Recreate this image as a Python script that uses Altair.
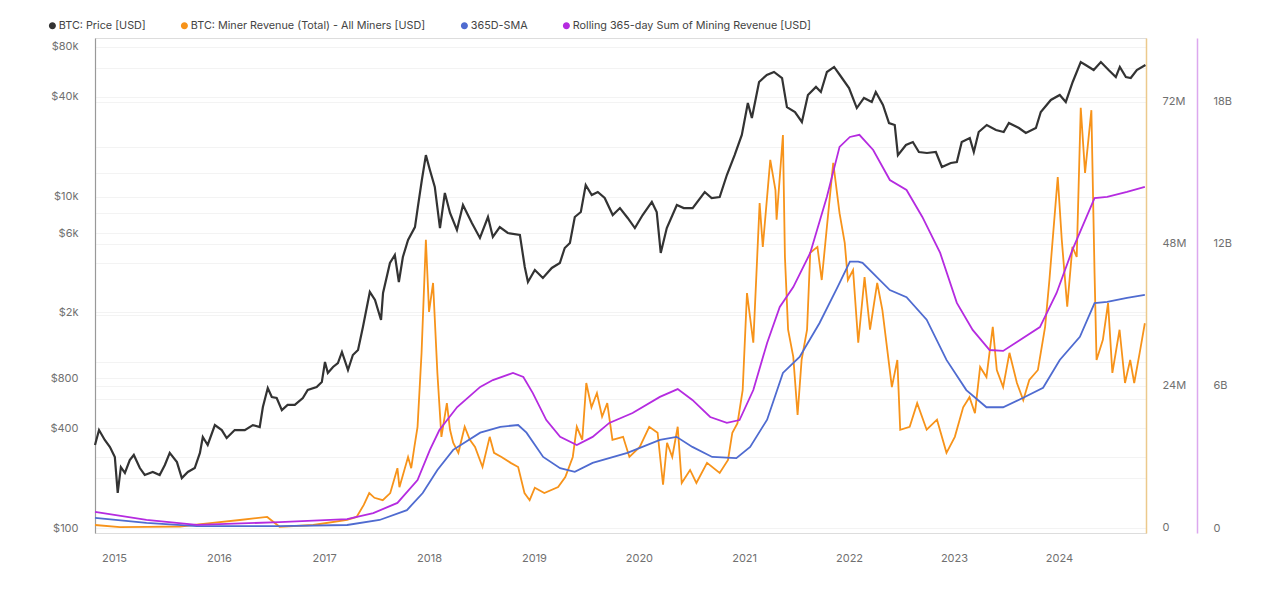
import altair as alt
import pandas as pd

SERIES = [
    "BTC: Price [USD]",
    "BTC: Miner Revenue (Total) - All Miners [USD]",
    "365D-SMA",
    "Rolling 365-day Sum of Mining Revenue [USD]",
]
COLORS = ["#333333", "#f7931a", "#4f6bd0", "#b52be0"]

# (decimal year, BTC price in USD)
PRICE = [
    (2014.819, 317), (2014.857, 390), (2014.914, 340), (2014.962, 308), (2015.010, 268),
    (2015.038, 163), (2015.067, 233), (2015.105, 215), (2015.152, 257), (2015.190, 276),
    (2015.248, 230), (2015.295, 209), (2015.371, 218), (2015.438, 209), (2015.486, 240),
    (2015.533, 284), (2015.600, 250), (2015.648, 200), (2015.705, 218), (2015.771, 230),
    (2015.819, 284), (2015.848, 354), (2015.895, 317), (2015.962, 418), (2016.029, 390),
    (2016.076, 349), (2016.152, 390), (2016.248, 390), (2016.324, 418), (2016.390, 407),
    (2016.419, 537), (2016.467, 700), (2016.505, 617), (2016.552, 609), (2016.600, 515),
    (2016.657, 553), (2016.724, 553), (2016.800, 609), (2016.848, 681), (2016.933, 710),
    (2016.981, 760), (2017.010, 1004), (2017.038, 862), (2017.086, 937), (2017.133, 990),
    (2017.171, 1154), (2017.229, 899), (2017.276, 1107), (2017.324, 1187), (2017.371, 1633),
    (2017.438, 2657), (2017.486, 2377), (2017.543, 1800), (2017.562, 2620), (2017.629, 3974),
    (2017.676, 4441), (2017.714, 3052), (2017.752, 4320), (2017.800, 5470), (2017.867, 6550),
    (2017.895, 8650), (2017.933, 12600), (2017.971, 17800), (2018.010, 14470), (2018.057, 11430),
    (2018.105, 6460), (2018.152, 10510), (2018.200, 7960), (2018.267, 6290), (2018.324, 8900),
    (2018.410, 6930), (2018.486, 5630), (2018.562, 7530), (2018.610, 5710), (2018.676, 6550),
    (2018.752, 6030), (2018.867, 5870), (2018.914, 3760), (2018.943, 3052), (2019.010, 3610),
    (2019.086, 3230), (2019.171, 3710), (2019.248, 3974), (2019.295, 4896), (2019.343, 5250),
    (2019.390, 7530), (2019.448, 8070), (2019.495, 11750), (2019.552, 10220), (2019.610, 10660),
    (2019.676, 9810), (2019.752, 7740), (2019.819, 8530), (2019.895, 7430), (2019.962, 6460),
    (2020.038, 7740), (2020.124, 9280), (2020.171, 8070), (2020.210, 4570), (2020.267, 6460),
    (2020.362, 8900), (2020.429, 8530), (2020.514, 8530), (2020.629, 10660), (2020.695, 9810),
    (2020.771, 9940), (2020.838, 13500), (2020.914, 17800), (2020.981, 23540), (2021.038, 36700),
    (2021.076, 29810), (2021.143, 49160), (2021.219, 54190), (2021.286, 56500), (2021.362, 51960),
    (2021.410, 34700), (2021.486, 32400), (2021.552, 28200), (2021.610, 41030), (2021.686, 45900),
    (2021.733, 42790), (2021.790, 56500), (2021.857, 60600), (2021.914, 54190), (2022.000, 45230),
    (2022.076, 34240), (2022.143, 39370), (2022.219, 37240), (2022.257, 42790), (2022.324, 35720),
    (2022.381, 27800), (2022.438, 27040), (2022.467, 17800), (2022.543, 20480), (2022.610, 21350),
    (2022.667, 18580), (2022.743, 18330), (2022.829, 18580), (2022.886, 15090), (2022.971, 15950),
    (2023.029, 16170), (2023.076, 21350), (2023.152, 22580), (2023.190, 18580), (2023.238, 24540),
    (2023.314, 27040), (2023.400, 25200), (2023.476, 24540), (2023.524, 27800), (2023.619, 25940),
    (2023.686, 24200), (2023.781, 25940), (2023.829, 32400), (2023.924, 38300), (2024.010, 41030),
    (2024.067, 37240), (2024.133, 49160), (2024.210, 64900), (2024.257, 62260), (2024.333, 58100),
    (2024.400, 64900), (2024.476, 58100), (2024.543, 52700), (2024.581, 60600), (2024.638, 52700),
    (2024.686, 51960), (2024.743, 58100), (2024.825, 62260),
]

# (decimal year, daily miner revenue in USD millions)
REVENUE = [
    (2014.82, 0.5), (2015.06, 0.15), (2015.31, 0.2), (2015.63, 0.25), (2015.94, 0.85),
    (2016.20, 1.35), (2016.46, 1.86), (2016.58, 0.2), (2016.90, 0.5), (2017.22, 1.35),
    (2017.31, 1.86), (2017.38, 3.9), (2017.43, 5.9), (2017.48, 5.1), (2017.56, 4.7),
    (2017.63, 5.9), (2017.70, 10.1), (2017.72, 6.9), (2017.80, 12.0), (2017.83, 10.1),
    (2017.86, 13.7), (2017.89, 17.1), (2017.93, 29.6), (2017.97, 48.7), (2018.00, 36.5),
    (2018.04, 41.4), (2018.08, 26.2), (2018.12, 15.4), (2018.17, 21.1), (2018.20, 16.6),
    (2018.23, 14.4), (2018.28, 12.7), (2018.34, 17.1), (2018.39, 14.9), (2018.44, 13.7),
    (2018.51, 10.3), (2018.58, 15.4), (2018.62, 12.7), (2018.69, 12.0), (2018.78, 11.0),
    (2018.85, 10.3), (2018.91, 5.9), (2018.96, 4.7), (2019.01, 6.8), (2019.10, 5.9),
    (2019.23, 6.9), (2019.30, 8.6), (2019.37, 12.0), (2019.41, 17.1), (2019.46, 14.9),
    (2019.50, 24.5), (2019.55, 20.4), (2019.60, 22.8), (2019.65, 18.8), (2019.70, 21.1),
    (2019.75, 14.9), (2019.85, 15.4), (2019.91, 12.0), (2020.01, 13.7), (2020.10, 17.1),
    (2020.18, 16.1), (2020.23, 7.3), (2020.27, 14.4), (2020.32, 12.0), (2020.37, 17.1),
    (2020.41, 7.6), (2020.49, 9.8), (2020.55, 7.6), (2020.65, 11.0), (2020.77, 9.3),
    (2020.85, 11.5), (2020.89, 16.1), (2020.94, 17.7), (2020.99, 23.3), (2021.03, 39.7),
    (2021.09, 31.3), (2021.15, 54.9), (2021.18, 47.5), (2021.25, 62.2), (2021.30, 57.1),
    (2021.31, 52.1), (2021.37, 66.4), (2021.39, 45.8), (2021.42, 33.5), (2021.47, 28.9),
    (2021.51, 19.1), (2021.55, 28.4), (2021.60, 33.5), (2021.63, 46.5), (2021.70, 47.5),
    (2021.74, 41.9), (2021.79, 50.9), (2021.85, 61.7), (2021.91, 53.2), (2021.96, 48.2),
    (2021.99, 41.9), (2022.04, 43.6), (2022.09, 31.3), (2022.15, 42.4), (2022.20, 33.5),
    (2022.27, 41.4), (2022.32, 36.8), (2022.41, 23.8), (2022.46, 28.4), (2022.49, 16.6),
    (2022.58, 17.1), (2022.65, 21.1), (2022.74, 16.6), (2022.84, 18.3), (2022.93, 12.7),
    (2023.01, 15.4), (2023.09, 20.4), (2023.15, 22.1), (2023.20, 19.4), (2023.25, 27.2),
    (2023.31, 25.5), (2023.37, 34.0), (2023.41, 26.7), (2023.47, 23.8), (2023.53, 29.6),
    (2023.60, 24.5), (2023.66, 21.6), (2023.72, 25.0), (2023.80, 26.7), (2023.87, 34.0),
    (2023.91, 41.9), (2023.99, 59.3), (2024.03, 48.7), (2024.08, 37.4), (2024.13, 47.5),
    (2024.17, 45.8), (2024.21, 71.0), (2024.25, 60.0), (2024.31, 70.6), (2024.34, 43.1),
    (2024.36, 28.4), (2024.42, 31.8), (2024.47, 38.0), (2024.51, 26.2), (2024.58, 33.5),
    (2024.63, 24.5), (2024.68, 28.4), (2024.72, 24.5), (2024.77, 29.6), (2024.82, 34.6),
]

# (decimal year, 365-day SMA of miner revenue in USD millions)
SMA = [
    (2014.82, 1.69), (2015.31, 0.85), (2015.79, 0.3), (2016.58, 0.3), (2017.22, 0.5),
    (2017.53, 1.35), (2017.79, 3.0), (2017.94, 5.9), (2018.08, 9.8), (2018.23, 13.2),
    (2018.49, 16.1), (2018.68, 17.1), (2018.85, 17.4), (2018.93, 16.1), (2019.09, 12.0),
    (2019.25, 10.1), (2019.39, 9.5), (2019.56, 11.0), (2019.89, 12.7), (2020.20, 14.9),
    (2020.36, 15.4), (2020.51, 13.7), (2020.70, 12.0), (2020.93, 11.8), (2021.06, 13.7),
    (2021.22, 18.3), (2021.37, 26.2), (2021.53, 28.9), (2021.72, 34.6), (2021.89, 40.7),
    (2022.01, 45.0), (2022.09, 45.0), (2022.13, 44.8), (2022.39, 40.2), (2022.55, 39.0),
    (2022.74, 35.2), (2022.93, 28.4), (2023.12, 23.3), (2023.31, 20.4), (2023.47, 20.4),
    (2023.66, 22.0), (2023.85, 23.7), (2024.01, 28.4), (2024.20, 32.3), (2024.34, 38.0),
    (2024.46, 38.2), (2024.65, 38.9), (2024.82, 39.4),
]

# (decimal year, rolling 365-day sum of mining revenue in USD billions)
ROLLING = [
    (2014.82, 0.68), (2015.31, 0.34), (2015.79, 0.13), (2016.58, 0.25), (2017.22, 0.38),
    (2017.47, 0.63), (2017.70, 1.06), (2017.89, 2.03), (2018.01, 3.30), (2018.10, 4.14),
    (2018.27, 5.11), (2018.49, 5.96), (2018.61, 6.25), (2018.80, 6.55), (2018.90, 6.38),
    (2018.99, 5.70), (2019.12, 4.56), (2019.25, 3.85), (2019.41, 3.51), (2019.56, 3.85),
    (2019.72, 4.44), (2019.94, 4.86), (2020.20, 5.54), (2020.37, 5.87), (2020.51, 5.41),
    (2020.68, 4.69), (2020.84, 4.44), (2020.96, 4.56), (2021.09, 5.83), (2021.22, 7.82),
    (2021.34, 9.34), (2021.47, 10.18), (2021.63, 11.62), (2021.79, 13.99), (2021.91, 16.10),
    (2022.01, 16.52), (2022.10, 16.61), (2022.23, 15.97), (2022.39, 14.70), (2022.55, 14.28),
    (2022.70, 13.14), (2022.87, 11.62), (2023.03, 9.51), (2023.18, 8.37), (2023.34, 7.52),
    (2023.47, 7.48), (2023.60, 7.86), (2023.82, 8.49), (2023.98, 9.93), (2024.13, 11.75),
    (2024.34, 13.94), (2024.46, 13.99), (2024.65, 14.20), (2024.82, 14.41),
]

YEARS = list(range(2015, 2025))
PRICE_GRID = [100, 200, 400, 600, 800, 1000, 2000, 4000, 6000, 8000, 10000, 20000, 40000, 60000, 80000]
PRICE_LABELS = [100, 400, 800, 2000, 6000, 10000, 40000, 80000]
REV_GRID = [0, 12, 24, 36, 48, 60, 72]
REV_LABELS = [0, 24, 48, 72]
ROLL_TICKS = [0, 6, 12, 18]

FONT = "Inter"
LABEL_COLOR = "#707070"
GRID_COLOR = "#f3f3f3"


def to_date(t):
    y = int(t)
    ts = pd.Timestamp(year=y, month=1, day=1) + pd.Timedelta(days=(t - y) * 365.25)
    return ts.strftime("%Y-%m-%d")


def frame(pairs, name):
    return pd.DataFrame({
        "date": [to_date(t) for t, _ in pairs],
        "value": [v for _, v in pairs],
        "series": name,
    })


price_df = frame(PRICE, SERIES[0])
rev_df = frame(REVENUE, SERIES[1])
sma_df = frame(SMA, SERIES[2])
roll_df = frame(ROLLING, SERIES[3])

x_enc = alt.X(
    "date:T",
    scale=alt.Scale(
        type="utc",
        domain=[alt.DateTime(year=2014, month=10, date=27, utc=True),
                alt.DateTime(year=2024, month=10, date=30, utc=True)],
    ),
    axis=alt.Axis(
        values=[alt.DateTime(year=y, month=1, date=1, utc=True) for y in YEARS],
        format="%Y", title=None, grid=False, ticks=False, domain=False,
        labelPadding=19, labelColor=LABEL_COLOR, labelFontSize=11, labelFont=FONT,
    ),
)

color_enc = alt.Color(
    "series:N",
    scale=alt.Scale(domain=SERIES, range=COLORS),
    legend=alt.Legend(
        orient="none", legendX=-48, legendY=-18, direction="horizontal", title=None,
        symbolType="circle", symbolSize=12, symbolStrokeWidth=3.6,
        labelFontSize=10.8, labelColor="#444444", labelFont=FONT, labelLimit=500,
        columnPadding=29, labelOffset=1, padding=0,
    ),
)

rev_domain = [-0.85, 82.8]

rev_layer = alt.Chart(rev_df).mark_line(strokeWidth=1.8).encode(
    x=x_enc,
    y=alt.Y("value:Q", scale=alt.Scale(domain=rev_domain, nice=False, zero=False),
            axis=alt.Axis(orient="right", values=REV_GRID, title=None,
                          labelExpr="indexof(" + str(REV_LABELS) + ", datum.value) >= 0 ? (datum.value == 0 ? '0' : datum.value + 'M') : ''",
                          grid=True, gridColor=GRID_COLOR, ticks=False,
                          domainColor="#ecc98c", domainWidth=1.5,
                          labelPadding=16, labelColor=LABEL_COLOR, labelFontSize=11, labelFont=FONT)),
    color=color_enc,
)

sma_layer = alt.Chart(sma_df).mark_line(strokeWidth=1.8).encode(
    x=x_enc,
    y=alt.Y("value:Q", scale=alt.Scale(domain=rev_domain, nice=False, zero=False), axis=None),
    color=color_enc,
)

roll_layer = alt.Chart(roll_df).mark_line(strokeWidth=1.8).encode(
    x=x_enc,
    y=alt.Y("value:Q", scale=alt.Scale(domain=[-0.21, 20.7], nice=False, zero=False),
            axis=alt.Axis(orient="right", offset=51, values=ROLL_TICKS, title=None,
                          labelExpr="datum.value == 0 ? '0' : datum.value + 'B'",
                          grid=False, ticks=False,
                          domainColor="#dca8ee", domainWidth=1.5,
                          labelPadding=16, labelColor=LABEL_COLOR, labelFontSize=11, labelFont=FONT)),
    color=color_enc,
)

price_layer = alt.Chart(price_df).mark_line(strokeWidth=2.2).encode(
    x=x_enc,
    y=alt.Y("value:Q", scale=alt.Scale(type="log", domain=[93.3, 90600], nice=False),
            axis=alt.Axis(orient="left", values=PRICE_GRID, title=None,
                          labelExpr="indexof(" + str(PRICE_LABELS) + ", datum.value) >= 0 ? (datum.value >= 1000 ? '$' + datum.value / 1000 + 'k' : '$' + datum.value) : ''",
                          grid=True, gridColor=GRID_COLOR, ticks=False,
                          domainColor="#999999", domainWidth=1.2,
                          labelPadding=17, labelColor=LABEL_COLOR, labelFontSize=11, labelFont=FONT)),
    color=color_enc,
)

chart = alt.layer(rev_layer, sma_layer, roll_layer, price_layer).resolve_scale(
    y="independent"
).properties(
    width=1051, height=495,
    autosize=alt.AutoSizeParams(type="none"),
    padding={"left": 87, "top": 30, "right": 125, "bottom": 40},
).configure_view(stroke="#e8e8e8").configure(background="white")

chart.save("out.html", embed_options={"renderer": "svg", "actions": False})
